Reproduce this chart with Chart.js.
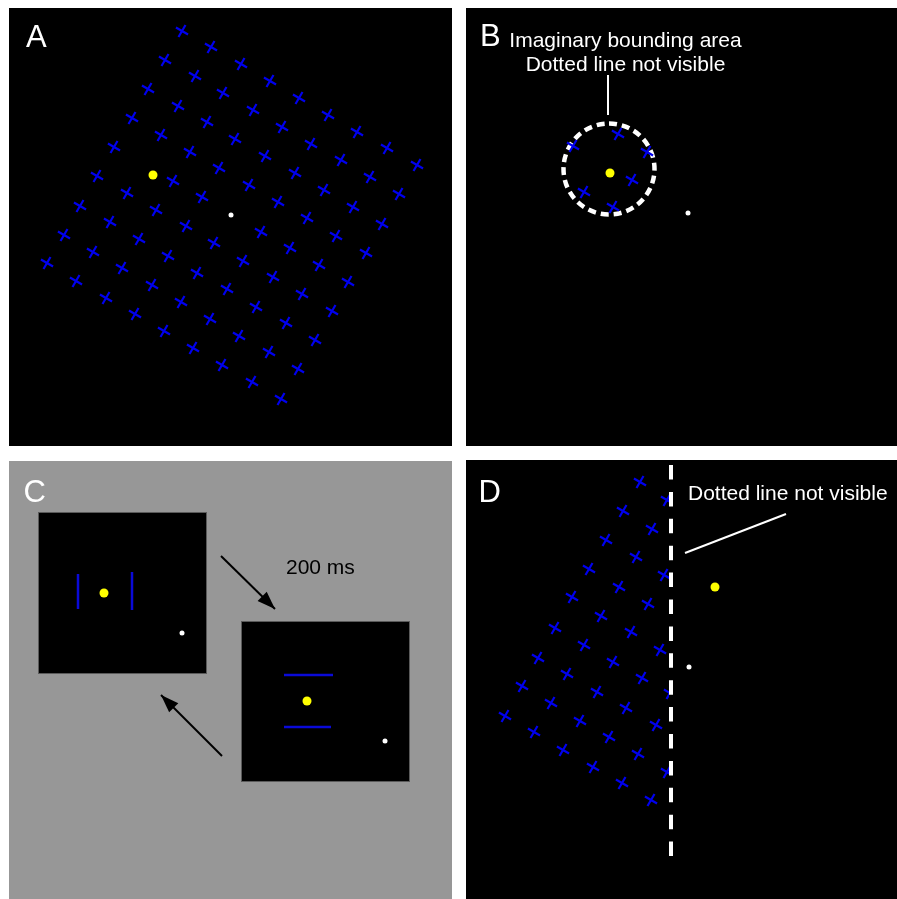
<!DOCTYPE html>
<html>
<head>
<meta charset="utf-8">
<title>Stimulus figure</title>
<script src="https://cdn.jsdelivr.net/npm/chart.js@4.4.1/dist/chart.umd.min.js"></script>
<style>
  html, body { margin: 0; padding: 0; background: #ffffff; }
  canvas { display: block; }
</style>
</head>
<body>
<canvas id="figure" width="897" height="899"></canvas>
<script>
// every value is in picture units (x to the right, y downwards)

// panel A: full search array, fixation (yellow) and the white marker
const crossesA = [
  [182, 31], [211, 47], [241, 64], [270, 81], [299, 98], [328, 115], [357, 132], [387, 148], [417, 165],
  [165, 60], [195, 76], [223, 93], [253, 110], [282, 127], [311, 144], [341, 160], [370, 177], [399, 194],
  [148, 89], [178, 106], [207, 122], [235, 139], [265, 156], [295, 173], [324, 190], [353, 207], [382, 224],
  [132, 118], [161, 135], [190, 152], [219, 168], [249, 185], [278, 202], [307, 218], [336, 236], [366, 253],
  [114, 147], [173, 181], [202, 197], [261, 232], [290, 248], [319, 265], [348, 282],
  [97, 176], [127, 193], [156, 210], [186, 226], [214, 243], [243, 261], [273, 277], [302, 294], [332, 311],
  [80, 206], [110, 222], [139, 239], [168, 256], [197, 273], [227, 289], [256, 307], [286, 323], [315, 340],
  [64, 235], [93, 252], [122, 268], [152, 285], [181, 302], [210, 319], [239, 336], [269, 352], [298, 369],
  [47, 263], [76, 281], [106, 298], [135, 314], [164, 331], [193, 348], [222, 365], [252, 382], [281, 399]
];

// panel B: crosses left inside the bounding area
const crossesB = [[618, 134], [573, 146], [647, 152], [632, 180], [584, 192], [613, 207]];

// panel D: crosses left of the boundary
const crossesD = [
  [640, 482], [667, 500],
  [623, 511], [652, 529],
  [606, 540], [636, 557], [664, 575],
  [589, 569], [619, 587], [648, 604],
  [572, 597], [601, 616], [631, 632], [660, 650],
  [555, 628], [584, 645], [613, 662], [642, 678], [670, 693],
  [538, 658], [567, 674], [597, 692], [626, 708], [656, 725],
  [522, 686], [551, 703], [580, 721], [609, 737], [638, 754], [667, 772],
  [505, 716], [534, 732], [563, 750], [593, 767], [622, 783], [651, 800]
];

const yellowDots = [[153, 175], [610, 173], [104, 593], [307, 701], [715, 587]];
const whiteDots = [[231, 215], [688, 213], [182, 633], [385, 741], [689, 667]];

// panel C: the two bar pairs
const barsC = [
  [[78, 574], [78, 609]],
  [[132, 572], [132, 610]],
  [[284, 675], [333, 675]],
  [[284, 727], [331, 727]]
];
const arrowsC = [
  [[221, 556], [275, 609]],
  [[222, 756], [161, 695]]
];

const leaderLines = [
  [[608, 75], [608, 115]],
  [[685, 553], [786, 514]]
];
const boundaryD = [[671, 465], [671, 856]];
const circleB = { cx: 609, cy: 169, r: 45.5 };

const panelLetters = ['A', 'B', 'C', 'D'];
const calloutB = ['Imaginary bounding area', 'Dotted line not visible'];
const calloutD = 'Dotted line not visible';
const timingLabel = '200 ms';

const BLUE = '#0000ee';
const FONT = '"Liberation Sans", Arial, Helvetica, sans-serif';

const toXY = pts => pts.map(([x, y]) => ({ x, y }));

const segment = (pts, color, width, dash) => ({
    data: toXY(pts),
    showLine: true,
    borderColor: color,
    borderWidth: width,
    borderDash: dash || [],
    pointRadius: 0,
    fill: false
});

const crossSet = (pts, clip) => ({
    data: toXY(pts),
    pointStyle: 'cross',
    pointRotation: 30,
    pointRadius: 7,
    pointBorderWidth: 2.2,
    pointBorderColor: BLUE,
    pointBackgroundColor: BLUE,
    clip: clip
});

const dotSet = (pts, color, radius) => ({
    data: toXY(pts),
    pointStyle: 'circle',
    pointRadius: radius,
    pointBorderWidth: 0,
    pointBackgroundColor: color,
    pointBorderColor: color
});

// backgrounds, boxes, circle, arrow heads and texts
const figurePlugin = {
    id: 'figure',
    beforeDatasetsDraw(chart) {
        const { ctx, scales: { x, y } } = chart;
        const rect = (x0, y0, x1, y1, fill, stroke) => {
            const px = x.getPixelForValue(x0), py = y.getPixelForValue(y0);
            const w = x.getPixelForValue(x1) - px, h = y.getPixelForValue(y1) - py;
            ctx.fillStyle = fill;
            ctx.fillRect(px, py, w, h);
            if (stroke) {
                ctx.strokeStyle = stroke;
                ctx.lineWidth = 1;
                ctx.strokeRect(px + 0.5, py + 0.5, w - 1, h - 1);
            }
        };
        ctx.save();
        rect(9, 8, 452, 446, '#000000');
        rect(466, 8, 897, 446, '#000000');
        rect(9, 461, 452, 899, '#979797');
        rect(466, 460, 897, 899, '#000000');
        rect(38, 512, 207, 674, '#000000', '#5a5a5a');
        rect(241, 621, 410, 782, '#000000', '#5a5a5a');

        // dashed bounding circle in B
        ctx.beginPath();
        ctx.setLineDash([8, 5]);
        ctx.lineWidth = 4.5;
        ctx.strokeStyle = '#ffffff';
        ctx.arc(x.getPixelForValue(circleB.cx), y.getPixelForValue(circleB.cy), circleB.r, -Math.PI / 2, 1.5 * Math.PI);
        ctx.stroke();
        ctx.restore();
    },
    afterDatasetsDraw(chart) {
        const { ctx, scales: { x, y } } = chart;
        ctx.save();

        // arrow heads
        ctx.fillStyle = '#000000';
        arrowsC.forEach(([a, b]) => {
            const x0 = x.getPixelForValue(a[0]), y0 = y.getPixelForValue(a[1]);
            const x1 = x.getPixelForValue(b[0]), y1 = y.getPixelForValue(b[1]);
            const len = Math.hypot(x1 - x0, y1 - y0);
            const ux = (x1 - x0) / len, uy = (y1 - y0) / len;
            const hl = 18, hw = 6.5;
            ctx.beginPath();
            ctx.moveTo(x1, y1);
            ctx.lineTo(x1 - ux * hl - uy * hw, y1 - uy * hl + ux * hw);
            ctx.lineTo(x1 - ux * hl + uy * hw, y1 - uy * hl - ux * hw);
            ctx.closePath();
            ctx.fill();
        });

        // panel letters
        ctx.fillStyle = '#ffffff';
        ctx.font = '31px ' + FONT;
        ctx.textBaseline = 'alphabetic';
        ctx.textAlign = 'left';
        ctx.fillText(panelLetters[0], 26, 47);
        ctx.fillText(panelLetters[1], 480, 46);
        ctx.fillText(panelLetters[2], 23.5, 502);
        ctx.fillText(panelLetters[3], 478.5, 502);

        // callouts
        ctx.font = '21px ' + FONT;
        ctx.textAlign = 'center';
        ctx.fillText(calloutB[0], 625.5, 47);
        ctx.fillText(calloutB[1], 625.5, 71);
        ctx.textAlign = 'left';
        ctx.fillText(calloutD, 688, 500);
        ctx.fillStyle = '#000000';
        ctx.fillText(timingLabel, 286, 574);
        ctx.restore();
    }
};

const datasets = [
    ...leaderLines.map(s => segment(s, '#ffffff', 2)),
    segment(boundaryD, '#ffffff', 4, [14.5, 12.4]),
    ...barsC.map(s => segment(s, '#0a0ad8', 2.5)),
    ...arrowsC.map(s => segment(s, '#000000', 2)),
    crossSet(crossesA.concat(crossesB), 0),
    crossSet(crossesD, { left: 0, top: 0, right: -228, bottom: 0 }),
    dotSet(yellowDots, '#ffff00', 4.5),
    dotSet(whiteDots, '#ffffff', 2.5)
];

new Chart(document.getElementById('figure'), {
    type: 'scatter',
    data: { datasets },
    options: {
        responsive: false,
        maintainAspectRatio: false,
        animation: false,
        events: [],
        layout: { padding: 0, autoPadding: false },
        plugins: {
            legend: { display: false },
            tooltip: { enabled: false }
        },
        scales: {
            x: { type: 'linear', min: 0, max: 897, display: false },
            y: { type: 'linear', min: 0, max: 899, reverse: true, display: false }
        }
    },
    plugins: [figurePlugin]
});
</script>
</body>
</html>
